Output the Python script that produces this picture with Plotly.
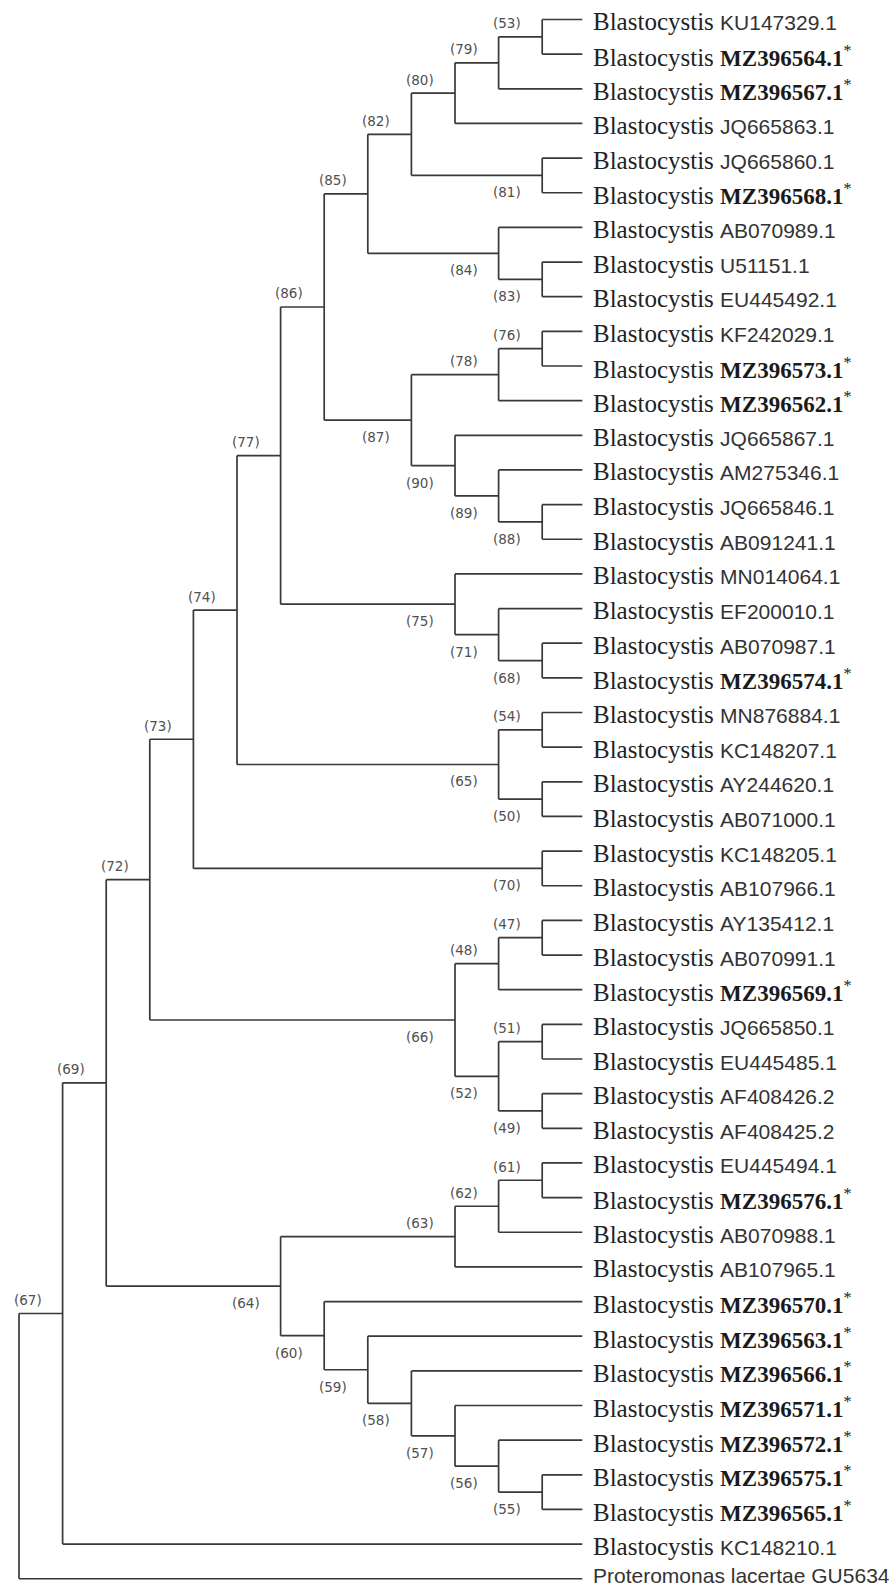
import plotly.graph_objects as go

# ---------------- data ----------------
genus = "Blastocystis"
accessions = [
    "KU147329.1", "MZ396564.1", "MZ396567.1", "JQ665863.1", "JQ665860.1", "MZ396568.1",
    "AB070989.1", "U51151.1", "EU445492.1", "KF242029.1", "MZ396573.1", "MZ396562.1",
    "JQ665867.1", "AM275346.1", "JQ665846.1", "AB091241.1", "MN014064.1", "EF200010.1",
    "AB070987.1", "MZ396574.1", "MN876884.1", "KC148207.1", "AY244620.1", "AB071000.1",
    "KC148205.1", "AB107966.1", "AY135412.1", "AB070991.1", "MZ396569.1", "JQ665850.1",
    "EU445485.1", "AF408426.2", "AF408425.2", "EU445494.1", "MZ396576.1", "AB070988.1",
    "AB107965.1", "MZ396570.1", "MZ396563.1", "MZ396566.1", "MZ396571.1", "MZ396572.1",
    "MZ396575.1", "MZ396565.1", "KC148210.1", "GU563431.1",
]
new_isolates = [a.startswith("MZ3965") for a in accessions]
outgroup_taxon = "Proteromonas lacertae"

# clades: (id, depth level, bootstrap support, children); ints are leaf indices
clades = [
    ("n53", 12, 53, [0, 1]),
    ("n79", 11, 79, ["n53", 2]),
    ("n80", 10, 80, ["n79", 3]),
    ("n81", 12, 81, [4, 5]),
    ("n82", 9, 82, ["n80", "n81"]),
    ("n83", 12, 83, [7, 8]),
    ("n84", 11, 84, [6, "n83"]),
    ("n85", 8, 85, ["n82", "n84"]),
    ("n76", 12, 76, [9, 10]),
    ("n78", 11, 78, ["n76", 11]),
    ("n88", 12, 88, [14, 15]),
    ("n89", 11, 89, [13, "n88"]),
    ("n90", 10, 90, [12, "n89"]),
    ("n87", 9, 87, ["n78", "n90"]),
    ("n86", 7, 86, ["n85", "n87"]),
    ("n68", 12, 68, [18, 19]),
    ("n71", 11, 71, [17, "n68"]),
    ("n75", 10, 75, [16, "n71"]),
    ("n77", 6, 77, ["n86", "n75"]),
    ("n54", 12, 54, [20, 21]),
    ("n50", 12, 50, [22, 23]),
    ("n65", 11, 65, ["n54", "n50"]),
    ("n74", 5, 74, ["n77", "n65"]),
    ("n70", 12, 70, [24, 25]),
    ("n73", 4, 73, ["n74", "n70"]),
    ("n47", 12, 47, [26, 27]),
    ("n48", 11, 48, ["n47", 28]),
    ("n51", 12, 51, [29, 30]),
    ("n49", 12, 49, [31, 32]),
    ("n52", 11, 52, ["n51", "n49"]),
    ("n66", 10, 66, ["n48", "n52"]),
    ("n72", 3, 72, ["n73", "n66"]),
    ("n61", 12, 61, [33, 34]),
    ("n62", 11, 62, ["n61", 35]),
    ("n63", 10, 63, ["n62", 36]),
    ("n55", 12, 55, [42, 43]),
    ("n56", 11, 56, [41, "n55"]),
    ("n57", 10, 57, [40, "n56"]),
    ("n58", 9, 58, [39, "n57"]),
    ("n59", 8, 59, [38, "n58"]),
    ("n60", 7, 60, [37, "n59"]),
    ("n64", 6, 64, ["n63", "n60"]),
    ("n69", 2, 69, ["n72", "n64"]),
    ("n67", 1, 67, ["n69", 44]),
    ("root", 0, None, ["n67", 45]),
]
tip_depth = 12.92

# ---------------- layout of tree ----------------
node_pos = {}


def pos(c):
    if isinstance(c, int):
        return (tip_depth, float(c))
    return node_pos[c]


parent_of = {}
for cid, depth, sup, ch in clades:
    ys = [pos(c)[1] for c in ch]
    node_pos[cid] = (depth, (min(ys) + max(ys)) / 2)
    for k, c in enumerate(ch):
        parent_of[c] = (cid, k == 0)

xs, ys = [], []
for cid, depth, sup, ch in clades:
    cy = [pos(c)[1] for c in ch]
    xs += [depth, depth, None]
    ys += [min(cy), max(cy), None]
    for c in ch:
        cx, cyy = pos(c)
        xs += [depth, cx, None]
        ys += [cyy, cyy, None]

fig = go.Figure()
fig.add_trace(go.Scatter(x=xs, y=ys, mode="lines",
                         line=dict(color="#383838", width=1.7),
                         hoverinfo="skip", showlegend=False))

annotations = []
# bootstrap labels
for cid, depth, sup, ch in clades:
    if sup is None:
        continue
    x, y = node_pos[cid]
    upper = parent_of[cid][1]
    annotations.append(dict(
        x=x, y=y, xref="x", yref="y", text=f"({sup})", showarrow=False,
        xanchor="center", yanchor="middle", xshift=-35,
        yshift=13.5 if upper else -17,
        font=dict(family="DejaVu Sans", size=13.5, color="#505050")))

# leaf labels
sans = "font-family:Liberation Sans, Arial;font-size:21px;color:#333"
last = len(accessions) - 1
for i, acc in enumerate(accessions):
    if i == last:
        txt = f"<span style='{sans}'>{outgroup_taxon} {acc}</span>"
    elif new_isolates[i]:
        txt = (f"{genus} <span style='font-size:23px;color:#1a1a1a'><b>{acc}</b>"
               f"<sup>*</sup></span>")
    else:
        txt = f"{genus} <span style='{sans}'>{acc}</span>"
    annotations.append(dict(
        x=tip_depth, y=i, xref="x", yref="y", text=txt, showarrow=False,
        xanchor="left", yanchor="middle", xshift=9,
        yshift=3 if i == last else -2,
        font=dict(family="Liberation Serif, Times New Roman", size=25, color="#222")))

px_per_level = 43.6
x_left = -19 / px_per_level
row_px = 34.65
y_top = -19.5 / row_px
y_bot = y_top + 1587 / row_px

fig.update_layout(
    width=889, height=1587,
    margin=dict(l=0, r=0, t=0, b=0),
    paper_bgcolor="white", plot_bgcolor="white",
    xaxis=dict(range=[x_left, x_left + 889 / px_per_level], visible=False, fixedrange=True),
    yaxis=dict(range=[y_bot, y_top], visible=False, fixedrange=True),
    annotations=annotations,
    showlegend=False,
)

fig.write_html("out.html", config={"displayModeBar": False},
               post_script="document.body.style.margin='0';document.body.style.overflow='hidden';")
